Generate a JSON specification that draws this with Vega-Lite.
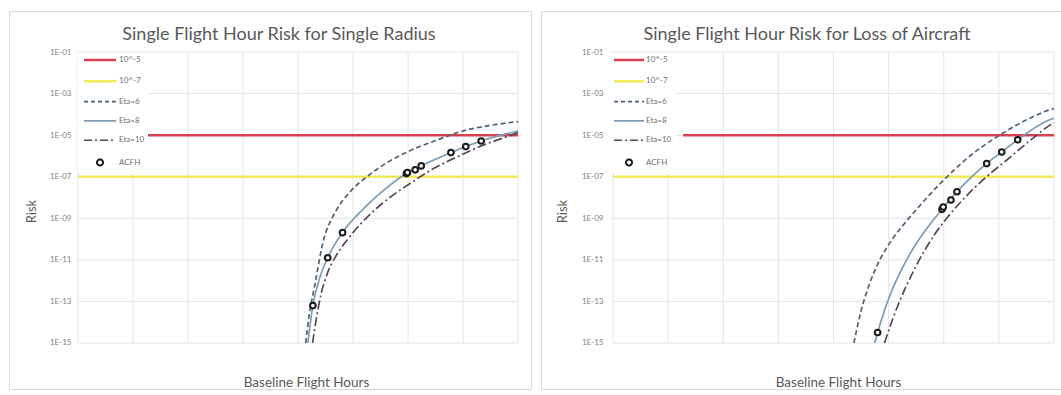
{
 "$schema": "https://vega.github.io/schema/vega-lite/v6.json",
 "background": "white",
 "padding": {"left": 8, "top": 10, "right": 0, "bottom": 0},
 "bounds": "flush",
 "spacing": 10,
 "config": {"view": {"stroke": "#d9d9d9", "strokeWidth": 1}, "font": "Lato"},
 "resolve": {"scale": {"color": "independent", "x": "independent", "y": "independent", "strokeDash": "independent"}, "legend": {"color": "independent"}},
 "datasets": {
  "gx": [{"x":0},{"x":1},{"x":2},{"x":3},{"x":4},{"x":5},{"x":6},{"x":7},{"x":8}],
  "gy": [{"risk":0.1},{"risk":0.001},{"risk":1e-5},{"risk":1e-7},{"risk":1e-9},{"risk":1e-11},{"risk":1e-13},{"risk":1e-15}],
  "thr5": [{"series":"10^-5","risk":1e-5}],
  "thr7": [{"series":"10^-7","risk":1e-7}],
  "r_curves": [
   {"series":"Eta=6","x":4.14,"risk":1e-15},{"series":"Eta=6","x":4.206,"risk":2.5e-14},{"series":"Eta=6","x":4.297,"risk":4.7e-13},{"series":"Eta=6","x":4.479,"risk":1.26e-10},{"series":"Eta=6","x":4.58,"risk":6.3e-10},{"series":"Eta=6","x":4.691,"risk":2.3e-9},{"series":"Eta=6","x":4.964,"risk":2.1e-8},{"series":"Eta=6","x":5.327,"risk":1.41e-7},{"series":"Eta=6","x":6.024,"risk":1.74e-6},{"series":"Eta=6","x":6.479,"risk":5.2e-6},{"series":"Eta=6","x":6.994,"risk":1.58e-5},{"series":"Eta=6","x":7.509,"risk":3.0e-5},{"series":"Eta=6","x":8.0,"risk":4.47e-5},
   {"series":"Eta=8","x":4.18,"risk":1e-15},{"series":"Eta=8","x":4.27,"risk":6.31e-14},{"series":"Eta=8","x":4.38,"risk":1e-12},{"series":"Eta=8","x":4.54,"risk":1.26e-11},{"series":"Eta=8","x":4.81,"risk":2.04e-10},{"series":"Eta=8","x":5.21,"risk":3.24e-9},{"series":"Eta=8","x":5.51,"risk":1.74e-8},{"series":"Eta=8","x":5.98,"risk":1.48e-7},{"series":"Eta=8","x":6.24,"risk":3.31e-7},{"series":"Eta=8","x":6.78,"risk":1.45e-6},{"series":"Eta=8","x":7.05,"risk":2.82e-6},{"series":"Eta=8","x":7.33,"risk":5.25e-6},{"series":"Eta=8","x":8.0,"risk":1.58e-5},
   {"series":"Eta=10","x":4.265,"risk":1e-15},{"series":"Eta=10","x":4.327,"risk":1.17e-14},{"series":"Eta=10","x":4.418,"risk":2.2e-13},{"series":"Eta=10","x":4.539,"risk":2.45e-12},{"series":"Eta=10","x":4.691,"risk":1.55e-11},{"series":"Eta=10","x":4.903,"risk":9.8e-11},{"series":"Eta=10","x":5.145,"risk":5.6e-10},{"series":"Eta=10","x":5.509,"risk":4.6e-9},{"series":"Eta=10","x":6.024,"risk":4.5e-8},{"series":"Eta=10","x":6.479,"risk":2.6e-7},{"series":"Eta=10","x":6.994,"risk":1.2e-6},{"series":"Eta=10","x":7.327,"risk":3.0e-6},{"series":"Eta=10","x":7.63,"risk":5.9e-6},{"series":"Eta=10","x":8.0,"risk":1.32e-5}
  ],
  "r_acfh": [
   {"series":"ACFH","x":4.27,"risk":6.31e-14},{"series":"ACFH","x":4.54,"risk":1.26e-11},{"series":"ACFH","x":4.81,"risk":2.04e-10},{"series":"ACFH","x":5.97,"risk":1.41e-7},{"series":"ACFH","x":5.99,"risk":1.58e-7},{"series":"ACFH","x":6.13,"risk":2.14e-7},{"series":"ACFH","x":6.24,"risk":3.31e-7},{"series":"ACFH","x":6.78,"risk":1.45e-6},{"series":"ACFH","x":7.05,"risk":2.82e-6},{"series":"ACFH","x":7.33,"risk":5.25e-6}
  ],
  "a_curves": [
   {"series":"Eta=6","x":4.37,"risk":1e-15},{"series":"Eta=6","x":4.499,"risk":3.5e-14},{"series":"Eta=6","x":4.65,"risk":6.6e-13},{"series":"Eta=6","x":4.831,"risk":8.9e-12},{"series":"Eta=6","x":5.043,"risk":8.1e-11},{"series":"Eta=6","x":5.285,"risk":5.5e-10},{"series":"Eta=6","x":5.587,"risk":4.7e-9},{"series":"Eta=6","x":5.95,"risk":5.1e-8},{"series":"Eta=6","x":6.434,"risk":8.1e-7},{"series":"Eta=6","x":7.039,"risk":1.1e-5},{"series":"Eta=6","x":7.523,"risk":5.8e-5},{"series":"Eta=6","x":7.946,"risk":1.74e-4},{"series":"Eta=6","x":8.0,"risk":1.9e-4},
   {"series":"Eta=8","x":4.747,"risk":1e-15},{"series":"Eta=8","x":4.801,"risk":3.2e-15},{"series":"Eta=8","x":4.892,"risk":2.0e-14},{"series":"Eta=8","x":5.043,"risk":2.6e-13},{"series":"Eta=8","x":5.224,"risk":3.0e-12},{"series":"Eta=8","x":5.466,"risk":4.3e-11},{"series":"Eta=8","x":5.709,"risk":3.7e-10},{"series":"Eta=8","x":5.968,"risk":2.7e-9},{"series":"Eta=8","x":6.24,"risk":1.9e-8},{"series":"Eta=8","x":6.779,"risk":4.3e-7},{"series":"Eta=8","x":7.051,"risk":1.55e-6},{"series":"Eta=8","x":7.341,"risk":6.0e-6},{"series":"Eta=8","x":7.946,"risk":5.8e-5},{"series":"Eta=8","x":8.0,"risk":6.5e-5},
   {"series":"Eta=10","x":4.925,"risk":1e-15},{"series":"Eta=10","x":5.043,"risk":8.5e-15},{"series":"Eta=10","x":5.164,"risk":6.0e-14},{"series":"Eta=10","x":5.315,"risk":5.1e-13},{"series":"Eta=10","x":5.466,"risk":3.5e-12},{"series":"Eta=10","x":5.648,"risk":2.7e-11},{"series":"Eta=10","x":5.829,"risk":1.58e-10},{"series":"Eta=10","x":6.071,"risk":1.15e-9},{"series":"Eta=10","x":6.313,"risk":6.3e-9},{"series":"Eta=10","x":6.676,"risk":5.8e-8},{"series":"Eta=10","x":7.16,"risk":6.9e-7},{"series":"Eta=10","x":7.643,"risk":8.1e-6},{"series":"Eta=10","x":7.946,"risk":3.3e-5},{"series":"Eta=10","x":8.0,"risk":4.0e-5}
  ],
  "a_acfh": [
   {"series":"ACFH","x":4.80,"risk":3.2e-15},{"series":"ACFH","x":5.968,"risk":2.7e-9},{"series":"ACFH","x":5.99,"risk":3.5e-9},{"series":"ACFH","x":6.13,"risk":7.6e-9},{"series":"ACFH","x":6.24,"risk":1.9e-8},{"series":"ACFH","x":6.779,"risk":4.3e-7},{"series":"ACFH","x":7.051,"risk":1.55e-6},{"series":"ACFH","x":7.341,"risk":6.0e-6}
  ]
 },
 "hconcat": [
  {
   "width": 522, "height": 378,
   "title": {"text": "Single Flight Hour Risk for Single Radius", "font": "Lato", "fontSize": 18, "fontWeight": "normal", "color": "#595959", "anchor": "middle", "frame": "group", "offset": -47, "baseline": "alphabetic", "dx": 9},
   "layer": [
    {"data": {"name": "gx"}, "mark": {"type": "rule", "color": "#e4e4e4", "strokeWidth": 1},
     "encoding": {
      "x": {"field": "x", "type": "quantitative", "scale": {"domain": [-1.2545, 8.236], "nice": false, "zero": false}, "axis": {"title": "Baseline Flight Hours", "labels": false, "domain": false, "ticks": false, "grid": false, "titleFont": "Lato", "titleFontSize": 13.5, "titleFontWeight": "normal", "titleColor": "#595959", "titleX": 297, "titleY": -7, "titleAlign": "center", "titleBaseline": "middle"}},
      "y": {"datum": 1e-15, "type": "quantitative", "scale": {"type": "log", "domain": [6.12e-18, 9.39], "nice": false}, "axis": {"title": "Risk", "values": [0.1, 0.001, 1e-5, 1e-7, 1e-9, 1e-11, 1e-13, 1e-15], "labelExpr": "'1E-' + (round(-log(datum.value)/LN10) < 10 ? '0' : '') + round(-log(datum.value)/LN10)", "offset": -62, "domain": false, "ticks": false, "tickSize": 0, "grid": false, "labelPadding": 0, "labelFont": "Lato", "labelFontSize": 8, "labelColor": "#7f7f7f", "titleFont": "Lato", "titleFontSize": 13, "titleFontWeight": "normal", "titleColor": "#595959", "titleAngle": 270, "titleX": -40, "titleY": 200, "titleAlign": "center", "titleBaseline": "middle"}},
      "y2": {"datum": 0.1}
     }},
    {"data": {"name": "gy"}, "mark": {"type": "rule", "color": "#e4e4e4", "strokeWidth": 1},
     "encoding": {
      "y": {"field": "risk", "type": "quantitative", "scale": {"type": "log", "domain": [6.12e-18, 9.39], "nice": false}, "axis": {"title": "Risk", "values": [0.1, 0.001, 1e-5, 1e-7, 1e-9, 1e-11, 1e-13, 1e-15], "labelExpr": "'1E-' + (round(-log(datum.value)/LN10) < 10 ? '0' : '') + round(-log(datum.value)/LN10)", "offset": -62, "domain": false, "ticks": false, "tickSize": 0, "grid": false, "labelPadding": 0, "labelFont": "Lato", "labelFontSize": 8, "labelColor": "#7f7f7f", "titleFont": "Lato", "titleFontSize": 13, "titleFontWeight": "normal", "titleColor": "#595959", "titleAngle": 270, "titleX": -40, "titleY": 200, "titleAlign": "center", "titleBaseline": "middle"}},
      "x": {"datum": 0, "type": "quantitative"},
      "x2": {"datum": 8}
     }},
    {"data": {"name": "thr7"}, "mark": {"type": "rule", "strokeWidth": 2.5},
     "encoding": {
      "y": {"field": "risk", "type": "quantitative"},
      "x": {"datum": 0, "type": "quantitative"},
      "x2": {"datum": 8},
      "color": {"field": "series", "type": "nominal", "scale": {"domain": ["10^-5","10^-7","Eta=6","Eta=8","Eta=10","ACFH"], "range": ["#d9404e","#f1ea5a","#4e6377","#7d9db4","#5b4659","#1a1a1a"]},
       "legend": {"title": null, "orient": "none", "legendX": 69, "legendY": 42, "padding": 3, "fillColor": "white", "zindex": 5, "symbolType": "stroke", "symbolSize": 1024, "symbolStrokeWidth": 2, "labelFont": "Lato", "labelFontSize": 8, "labelColor": "#6f6f6f", "labelOffset": 2, "rowPadding": 11.3,
        "encode": {
         "symbols": {"update": {
          "x": {"value": 19},
          "shape": {"signal": "datum.value === 'ACFH' ? 'circle' : 'stroke'"},
          "size": {"signal": "datum.value === 'ACFH' ? 36 : 1024"},
          "strokeDash": {"signal": "datum.value === 'Eta=6' ? [4,3] : (datum.value === 'Eta=10' ? [8,3,2,3] : [1,0])"},
          "strokeWidth": {"signal": "(datum.value === '10^-5' || datum.value === '10^-7') ? 2.5 : (datum.value === 'ACFH' ? 2 : 1.6)"},
          "fill": {"signal": "datum.value === 'ACFH' ? 'white' : 'transparent'"},
          "stroke": {"signal": "datum.value === '10^-5' ? '#d9404e' : datum.value === '10^-7' ? '#f1ea5a' : datum.value === 'Eta=6' ? '#4e6377' : datum.value === 'Eta=8' ? '#7d9db4' : datum.value === 'Eta=10' ? '#5b4659' : '#1a1a1a'"},
          "opacity": {"value": 1}
         }},
         "labels": {"update": {"x": {"value": 38}}}
        }}}
     }},
    {"data": {"name": "thr5"}, "mark": {"type": "rule", "strokeWidth": 2.5},
     "encoding": {
      "y": {"field": "risk", "type": "quantitative"},
      "x": {"datum": 1.27, "type": "quantitative", "scale": {"domain": [-1.2545, 8.236], "nice": false, "zero": false}},
      "x2": {"datum": 8},
      "color": {"field": "series", "type": "nominal"}
     }},
    {"data": {"name": "r_curves"}, "mark": {"type": "line", "strokeWidth": 1.7, "interpolate": "monotone", "clip": true},
     "encoding": {
      "x": {"field": "x", "type": "quantitative"},
      "y": {"field": "risk", "type": "quantitative"},
      "color": {"field": "series", "type": "nominal"},
      "strokeDash": {"field": "series", "type": "nominal", "scale": {"domain": ["Eta=6","Eta=8","Eta=10"], "range": [[5,3],[1,0],[9,3,2,3]]}, "legend": null}
     }},
    {"data": {"name": "r_acfh"}, "mark": {"type": "point", "shape": "circle", "filled": false, "fill": "white", "fillOpacity": 1, "size": 32, "strokeWidth": 2, "opacity": 1},
     "encoding": {
      "x": {"field": "x", "type": "quantitative"},
      "y": {"field": "risk", "type": "quantitative"},
      "color": {"field": "series", "type": "nominal"}
     }}
   ]
  },
  {
   "width": 522, "height": 378,
   "title": {"text": "Single Flight Hour Risk for Loss of Aircraft", "font": "Lato", "fontSize": 18, "fontWeight": "normal", "color": "#595959", "anchor": "middle", "frame": "group", "offset": -47, "baseline": "alphabetic", "dx": 5},
   "layer": [
    {"data": {"name": "gx"}, "mark": {"type": "rule", "color": "#e4e4e4", "strokeWidth": 1},
     "encoding": {
      "x": {"field": "x", "type": "quantitative", "scale": {"domain": [-1.306, 8.163], "nice": false, "zero": false}, "axis": {"title": "Baseline Flight Hours", "labels": false, "domain": false, "ticks": false, "grid": false, "titleFont": "Lato", "titleFontSize": 13.5, "titleFontWeight": "normal", "titleColor": "#595959", "titleX": 297, "titleY": -7, "titleAlign": "center", "titleBaseline": "middle"}},
      "y": {"datum": 1e-15, "type": "quantitative", "scale": {"type": "log", "domain": [6.12e-18, 9.39], "nice": false}, "axis": {"title": "Risk", "values": [0.1, 0.001, 1e-5, 1e-7, 1e-9, 1e-11, 1e-13, 1e-15], "labelExpr": "'1E-' + (round(-log(datum.value)/LN10) < 10 ? '0' : '') + round(-log(datum.value)/LN10)", "offset": -62, "domain": false, "ticks": false, "tickSize": 0, "grid": false, "labelPadding": 0, "labelFont": "Lato", "labelFontSize": 8, "labelColor": "#7f7f7f", "titleFont": "Lato", "titleFontSize": 13, "titleFontWeight": "normal", "titleColor": "#595959", "titleAngle": 270, "titleX": -41, "titleY": 200, "titleAlign": "center", "titleBaseline": "middle"}},
      "y2": {"datum": 0.1}
     }},
    {"data": {"name": "gy"}, "mark": {"type": "rule", "color": "#e4e4e4", "strokeWidth": 1},
     "encoding": {
      "y": {"field": "risk", "type": "quantitative", "scale": {"type": "log", "domain": [6.12e-18, 9.39], "nice": false}, "axis": {"title": "Risk", "values": [0.1, 0.001, 1e-5, 1e-7, 1e-9, 1e-11, 1e-13, 1e-15], "labelExpr": "'1E-' + (round(-log(datum.value)/LN10) < 10 ? '0' : '') + round(-log(datum.value)/LN10)", "offset": -62, "domain": false, "ticks": false, "tickSize": 0, "grid": false, "labelPadding": 0, "labelFont": "Lato", "labelFontSize": 8, "labelColor": "#7f7f7f", "titleFont": "Lato", "titleFontSize": 13, "titleFontWeight": "normal", "titleColor": "#595959", "titleAngle": 270, "titleX": -41, "titleY": 200, "titleAlign": "center", "titleBaseline": "middle"}},
      "x": {"datum": 0, "type": "quantitative"},
      "x2": {"datum": 8}
     }},
    {"data": {"name": "thr7"}, "mark": {"type": "rule", "strokeWidth": 2.5},
     "encoding": {
      "y": {"field": "risk", "type": "quantitative"},
      "x": {"datum": 0, "type": "quantitative"},
      "x2": {"datum": 8},
      "color": {"field": "series", "type": "nominal", "scale": {"domain": ["10^-5","10^-7","Eta=6","Eta=8","Eta=10","ACFH"], "range": ["#d9404e","#f1ea5a","#4e6377","#7d9db4","#5b4659","#1a1a1a"]},
       "legend": {"title": null, "orient": "none", "legendX": 69, "legendY": 42, "padding": 3, "fillColor": "white", "zindex": 5, "symbolType": "stroke", "symbolSize": 900, "symbolStrokeWidth": 2, "labelFont": "Lato", "labelFontSize": 8, "labelColor": "#6f6f6f", "labelOffset": 2, "rowPadding": 11.3,
        "encode": {
         "symbols": {"update": {
          "x": {"value": 16},
          "shape": {"signal": "datum.value === 'ACFH' ? 'circle' : 'stroke'"},
          "size": {"signal": "datum.value === 'ACFH' ? 36 : 900"},
          "strokeDash": {"signal": "datum.value === 'Eta=6' ? [4,3] : (datum.value === 'Eta=10' ? [8,3,2,3] : [1,0])"},
          "strokeWidth": {"signal": "(datum.value === '10^-5' || datum.value === '10^-7') ? 2.5 : (datum.value === 'ACFH' ? 2 : 1.6)"},
          "fill": {"signal": "datum.value === 'ACFH' ? 'white' : 'transparent'"},
          "stroke": {"signal": "datum.value === '10^-5' ? '#d9404e' : datum.value === '10^-7' ? '#f1ea5a' : datum.value === 'Eta=6' ? '#4e6377' : datum.value === 'Eta=8' ? '#7d9db4' : datum.value === 'Eta=10' ? '#5b4659' : '#1a1a1a'"},
          "opacity": {"value": 1}
         }},
         "labels": {"update": {"x": {"value": 33}}}
        }}}
     }},
    {"data": {"name": "thr5"}, "mark": {"type": "rule", "strokeWidth": 2.5},
     "encoding": {
      "y": {"field": "risk", "type": "quantitative"},
      "x": {"datum": 1.27, "type": "quantitative", "scale": {"domain": [-1.306, 8.163], "nice": false, "zero": false}},
      "x2": {"datum": 8},
      "color": {"field": "series", "type": "nominal"}
     }},
    {"data": {"name": "a_curves"}, "mark": {"type": "line", "strokeWidth": 1.7, "interpolate": "monotone", "clip": true},
     "encoding": {
      "x": {"field": "x", "type": "quantitative"},
      "y": {"field": "risk", "type": "quantitative"},
      "color": {"field": "series", "type": "nominal"},
      "strokeDash": {"field": "series", "type": "nominal", "scale": {"domain": ["Eta=6","Eta=8","Eta=10"], "range": [[5,3],[1,0],[9,3,2,3]]}, "legend": null}
     }},
    {"data": {"name": "a_acfh"}, "mark": {"type": "point", "shape": "circle", "filled": false, "fill": "white", "fillOpacity": 1, "size": 32, "strokeWidth": 2, "opacity": 1},
     "encoding": {
      "x": {"field": "x", "type": "quantitative"},
      "y": {"field": "risk", "type": "quantitative"},
      "color": {"field": "series", "type": "nominal"}
     }}
   ]
  }
 ]
}
